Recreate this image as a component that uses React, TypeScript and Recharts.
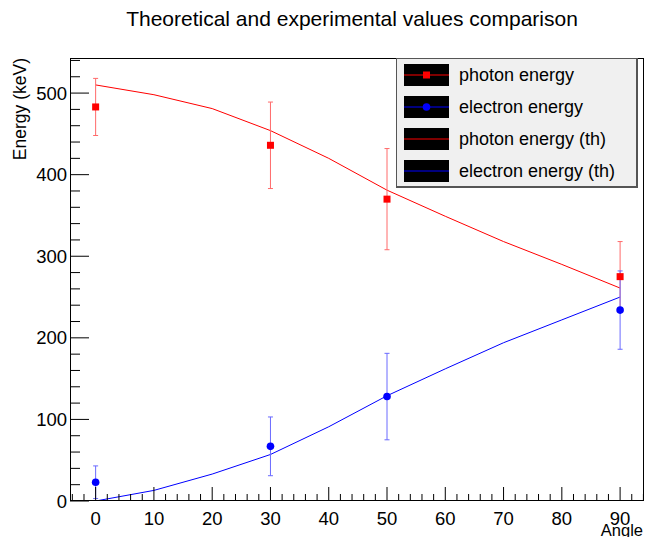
import React from 'react';
import {
  ComposedChart,
  Scatter,
  Line,
  ErrorBar,
  XAxis,
  YAxis,
} from 'recharts';

// measured points (angle in degrees, energy in keV)
const angles = [0, 30, 50, 90];
const photonExp = [483, 436, 370, 275];
const photonErr = [35, 53, 62, 43];
const electronExp = [23, 67, 128, 234];
const electronErr = [20, 36, 53, 48];

// theoretical curves
const thAngles = [0, 10, 20, 30, 40, 50, 60, 70, 80, 90];
const photonTh = [510, 498, 481, 454, 420, 381, 349, 318, 290, 261];
const electronTh = [0, 13, 33, 57, 91, 129, 162, 194, 222, 250];

const xTickLabels = [0, 10, 20, 30, 40, 50, 60, 70, 80, 90];
const yTickLabels = [0, 100, 200, 300, 400, 500];

const W = 646;
const H = 537;
const FONT = '"Liberation Sans", Arial, Helvetica, sans-serif';

const photonData = angles.map((x, i) => ({ x, y: photonExp[i], err: photonErr[i] }));
const electronData = angles.map((x, i) => ({ x, y: electronExp[i], err: electronErr[i] }));
const photonThData = thAngles.map((x, i) => ({ x, y: photonTh[i] }));
const electronThData = thAngles.map((x, i) => ({ x, y: electronTh[i] }));

// minor ticks every 2 deg / 20 keV
const xTicks = Array.from({ length: 50 }, (_, i) => -4 + i * 2);
const yTicks = Array.from({ length: 28 }, (_, i) => i * 20);

const legendItems = [
  { label: 'photon energy', color: 'red', marker: 'square' },
  { label: 'electron energy', color: 'blue', marker: 'circle' },
  { label: 'photon energy (th)', color: 'red', marker: null },
  { label: 'electron energy (th)', color: 'blue', marker: null },
];

const XTick = ({ x, y, payload }: any) => {
  const v = payload.value;
  const major = xTickLabels.includes(v);
  return (
    <g>
      <line x1={x} x2={x} y1={y} y2={y - (major ? 14 : 7)} stroke="#000" />
      {major && (
        <text x={x} y={y + 24} textAnchor="middle" fontSize={18.5} fill="#000" fontFamily={FONT}>
          {v}
        </text>
      )}
    </g>
  );
};

const YTick = ({ x, y, payload }: any) => {
  const v = payload.value;
  const major = yTickLabels.includes(v);
  return (
    <g>
      <line x1={x} x2={x + (major ? 19 : 10)} y1={y} y2={y} stroke="#000" />
      {major && (
        <text x={x - 3} y={y + 6.5} textAnchor="end" fontSize={18.5} fill="#000" fontFamily={FONT}>
          {v}
        </text>
      )}
    </g>
  );
};

const Square = ({ cx, cy }: any) => (
  <rect x={cx - 3.5} y={cy - 3.5} width={7} height={7} fill="red" />
);

const Dot = ({ cx, cy }: any) => <circle cx={cx} cy={cy} r={3.8} fill="blue" />;

export default function App() {
  return (
    <div style={{ position: 'relative', width: W, height: H, fontFamily: FONT, background: '#fff' }}>
      <style>{'body{margin:0}'}</style>
      <ComposedChart
        width={W}
        height={H}
        margin={{ top: 58, right: 2, left: 10, bottom: 6 }}
      >
        <XAxis
          type="number"
          dataKey="x"
          domain={[-4.4, 94.1]}
          ticks={xTicks}
          interval={0}
          allowDataOverflow
          axisLine={false}
          tickLine={false}
          tickSize={0}
          tickMargin={0}
          height={30}
          tick={<XTick />}
        />
        <YAxis
          type="number"
          domain={[0, 543]}
          ticks={yTicks}
          interval={0}
          allowDataOverflow
          axisLine={false}
          tickLine={false}
          tickSize={0}
          tickMargin={0}
          width={60}
          tick={<YTick />}
        />
        <Line
          data={photonThData}
          dataKey="y"
          type="linear"
          stroke="red"
          strokeWidth={1}
          dot={false}
          isAnimationActive={false}
        />
        <Line
          data={electronThData}
          dataKey="y"
          type="linear"
          stroke="blue"
          strokeWidth={1}
          dot={false}
          isAnimationActive={false}
        />
        <Scatter data={photonData} dataKey="y" shape={<Square />} isAnimationActive={false}>
          <ErrorBar dataKey="err" direction="y" width={2.5} stroke="#ff6a6a" strokeWidth={1} />
        </Scatter>
        <Scatter data={electronData} dataKey="y" shape={<Dot />} isAnimationActive={false}>
          <ErrorBar dataKey="err" direction="y" width={2.5} stroke="#6a6aff" strokeWidth={1} />
        </Scatter>
      </ComposedChart>

      {/* frame, title and axis titles */}
      <svg
        width={W}
        height={H}
        style={{ position: 'absolute', left: 0, top: 0, pointerEvents: 'none' }}
      >
        <rect x={70.5} y={58.5} width={573} height={442} fill="none" stroke="#000" strokeWidth={1} />
        <text x={352} y={26} textAnchor="middle" fontSize={21} fill="#000" fontFamily={FONT}>
          Theoretical and experimental values comparison
        </text>
        <text
          transform="translate(26,58) rotate(-90)"
          textAnchor="end"
          fontSize={17.5}
          fill="#000"
          fontFamily={FONT}
        >
          Energy (keV)
        </text>
        <text x={643} y={535.5} textAnchor="end" fontSize={16.5} fill="#000" fontFamily={FONT}>
          Angle
        </text>
      </svg>

      {/* legend */}
      <div
        style={{
          position: 'absolute',
          left: 396,
          top: 58,
          width: 242,
          height: 130,
          boxSizing: 'border-box',
          background: '#f0f0f0',
          border: '1px solid #555',
          borderRightWidth: 2,
          borderBottomWidth: 2,
        }}
      >
        {legendItems.map((item, i) => (
          <div
            key={item.label}
            style={{ position: 'absolute', left: 7, top: 5 + i * 32, height: 22, display: 'flex', alignItems: 'center' }}
          >
            <svg width={45} height={22}>
              <rect x={0} y={0} width={45} height={22} fill="#000" />
              <line x1={0} x2={45} y1={11} y2={11} stroke={item.color} strokeWidth={1} />
              {item.marker === 'square' && <rect x={19} y={7.5} width={7} height={7} fill={item.color} />}
              {item.marker === 'circle' && <circle cx={22.5} cy={11} r={3.8} fill={item.color} />}
            </svg>
            <span style={{ marginLeft: 10, fontSize: 18, color: '#000', whiteSpace: 'nowrap' }}>{item.label}</span>
          </div>
        ))}
      </div>
    </div>
  );
}
